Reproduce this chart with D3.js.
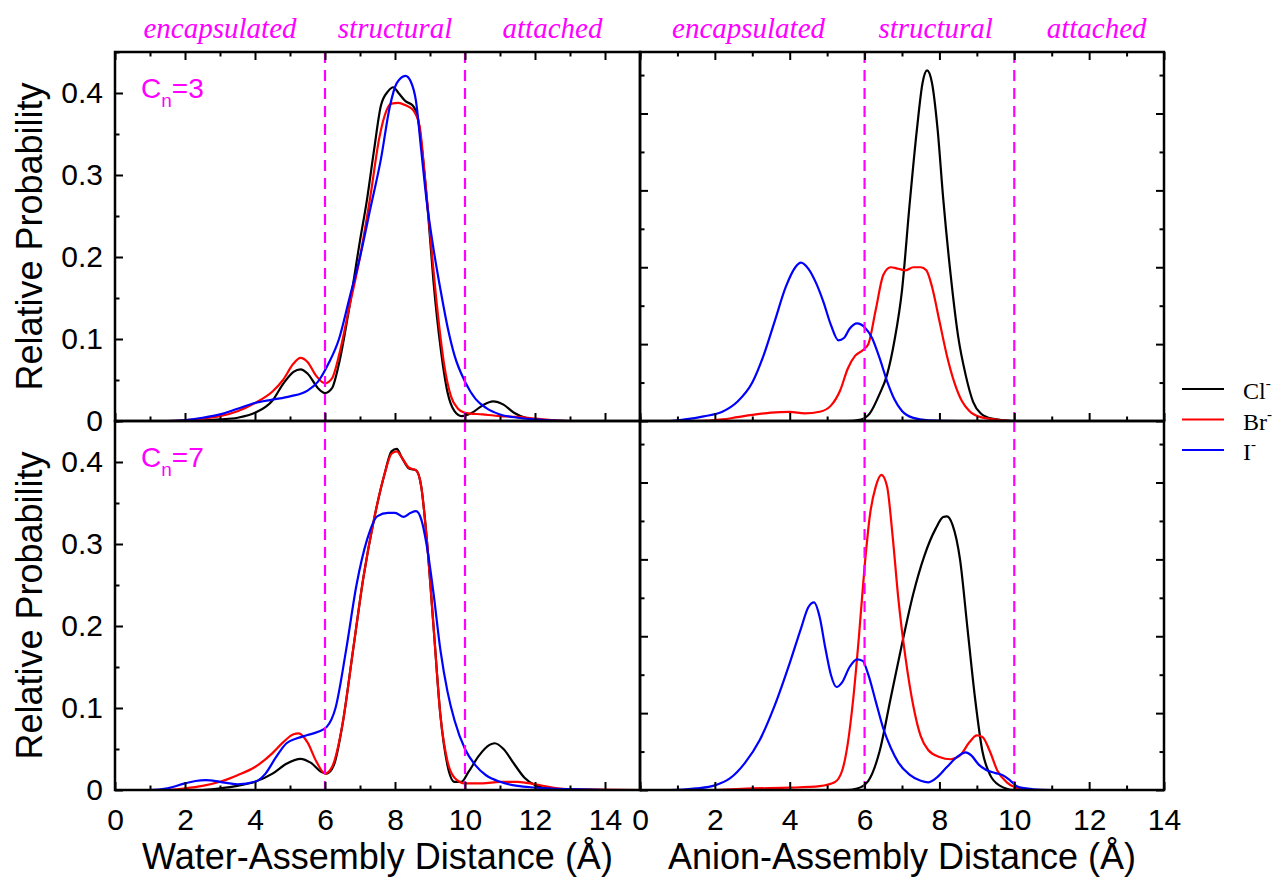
<!DOCTYPE html>
<meta charset="utf-8">
<html>
<head>
  <script src="https://d3js.org/d3.v7.min.js"></script>
  <style>
    body { margin: 0; background: #fff; }
    .tick text { font-family: "Liberation Sans", Arial, sans-serif; font-size: 30px; fill: #000; }
    .tick line { stroke: #000; stroke-width: 2; }
    .title { font-family: "Liberation Sans", Arial, sans-serif; font-size: 36px; fill: #000; }
    .region { font-family: "Liberation Serif", "Times New Roman", serif; font-style: italic; font-size: 29px; fill: #ff00ff; }
    .legend text { font-family: "Liberation Serif", "Times New Roman", serif; font-size: 24px; fill: #000; }
  </style>
</head>
<body>
<script>

// x ticks / labels
var xMajor = [0, 2, 4, 6, 8, 10, 12, 14];
var xMinorLeft = [1, 3, 5, 7, 9, 11, 13, 15];
var xMinorRight = [1, 3, 5, 7, 9, 11, 13];
var yMajor = [0, 0.1, 0.2, 0.3, 0.4];
var yMinor = [0.05, 0.15, 0.25, 0.35, 0.45];
var boundaries = [6, 10];
var regionNames = ["encapsulated", "structural", "attached"];
var regionXLeft = [3, 8, 12.5];
var regionXRight = [2.9, 7.9, 12.2];
var ions = ["Cl", "Br", "I"];
var ionColors = ["#000000", "#ff0000", "#0000ff"];

// water-assembly distance, Cn=3
var wat3Cl = [[0,0],[2,0],[3,0.002],[3.5,0.004],[4,0.01],[4.5,0.025],[4.8,0.045],[5.1,0.06],[5.3,0.063],[5.5,0.058],[5.8,0.04],[6,0.034],[6.2,0.04],[6.4,0.07],[6.7,0.14],[7,0.22],[7.2,0.27],[7.4,0.33],[7.6,0.385],[7.8,0.402],[7.95,0.407],[8.1,0.4],[8.3,0.39],[8.5,0.385],[8.65,0.37],[8.8,0.32],[8.95,0.25],[9.1,0.17],[9.3,0.09],[9.5,0.035],[9.7,0.012],[9.9,0.006],[10.2,0.01],[10.5,0.019],[10.8,0.024],[11.1,0.02],[11.4,0.01],[11.8,0.003],[12.5,0],[15,0]];
var wat3Br = [[0,0],[1.5,0],[2.5,0.003],[3,0.006],[3.5,0.012],[4,0.022],[4.5,0.036],[4.8,0.05],[5.1,0.07],[5.3,0.077],[5.5,0.072],[5.75,0.055],[6,0.046],[6.2,0.052],[6.4,0.08],[6.7,0.14],[7,0.2],[7.3,0.275],[7.55,0.345],[7.75,0.378],[7.9,0.387],[8.1,0.388],[8.3,0.385],[8.5,0.38],[8.7,0.36],[8.85,0.3],[9,0.23],[9.2,0.14],[9.4,0.07],[9.6,0.03],[9.8,0.015],[10,0.01],[10.5,0.008],[11,0.006],[11.5,0.005],[12,0.003],[13,0],[15,0]];
var wat3I = [[0,0],[1.5,0],[2.5,0.004],[3,0.008],[3.5,0.015],[4,0.022],[4.5,0.026],[5,0.03],[5.5,0.037],[5.8,0.048],[6.1,0.07],[6.4,0.1],[6.7,0.15],[7,0.2],[7.3,0.26],[7.6,0.32],[7.85,0.383],[8.05,0.412],[8.3,0.421],[8.45,0.414],[8.6,0.39],[8.75,0.33],[8.9,0.27],[9.1,0.21],[9.3,0.16],[9.5,0.115],[9.7,0.08],[10,0.048],[10.3,0.027],[10.6,0.016],[11,0.008],[11.5,0.004],[12,0.002],[13,0],[15,0]];

// water-assembly distance, Cn=7
var wat7Cl = [[0,0],[2.5,0],[3,0.002],[3.5,0.005],[4,0.01],[4.5,0.02],[4.9,0.032],[5.3,0.038],[5.6,0.033],[5.9,0.022],[6.05,0.02],[6.25,0.03],[6.5,0.08],[6.8,0.17],[7.1,0.26],[7.4,0.33],[7.7,0.385],[7.9,0.413],[8.05,0.416],[8.2,0.405],[8.4,0.392],[8.6,0.39],[8.75,0.37],[8.9,0.31],[9.1,0.2],[9.3,0.09],[9.5,0.03],[9.7,0.01],[9.9,0.01],[10.1,0.022],[10.4,0.042],[10.7,0.055],[10.85,0.057],[11.1,0.05],[11.4,0.032],[11.7,0.015],[12,0.006],[12.5,0.001],[13,0],[15,0]];
var wat7Br = [[0,0],[1.5,0],[2,0.002],[2.5,0.005],[3,0.01],[3.5,0.018],[4,0.028],[4.5,0.045],[4.8,0.058],[5.1,0.068],[5.25,0.069],[5.5,0.058],[5.75,0.035],[6,0.02],[6.2,0.028],[6.5,0.08],[6.8,0.17],[7.1,0.26],[7.4,0.33],[7.7,0.385],[7.9,0.41],[8.05,0.413],[8.2,0.405],[8.4,0.393],[8.6,0.39],[8.75,0.37],[8.9,0.31],[9.1,0.2],[9.3,0.09],[9.5,0.035],[9.7,0.015],[10,0.008],[10.5,0.008],[11,0.01],[11.5,0.01],[12,0.007],[12.5,0.003],[13,0.001],[15,0]];
var wat7I = [[0,0],[1,0],[1.5,0.002],[2,0.008],[2.3,0.011],[2.6,0.012],[3,0.01],[3.5,0.007],[4,0.01],[4.3,0.02],[4.6,0.04],[4.9,0.057],[5.2,0.063],[5.5,0.067],[5.8,0.071],[6.05,0.077],[6.3,0.1],[6.6,0.17],[6.9,0.25],[7.2,0.305],[7.5,0.334],[7.8,0.338],[8,0.338],[8.25,0.333],[8.45,0.338],[8.6,0.34],[8.75,0.33],[8.9,0.3],[9.1,0.24],[9.3,0.17],[9.5,0.12],[9.7,0.085],[10,0.05],[10.3,0.03],[10.6,0.018],[11,0.01],[11.5,0.005],[12,0.003],[13,0.001],[14,0],[15,0]];

// anion-assembly distance, Cn=3
var an3Cl = [[0,0],[5.5,0],[5.9,0.002],[6.14,0.01],[6.4,0.035],[6.6,0.06],[6.8,0.105],[7,0.17],[7.2,0.28],[7.4,0.38],[7.55,0.44],[7.67,0.456],[7.8,0.44],[7.95,0.38],[8.1,0.29],[8.3,0.19],[8.5,0.11],[8.7,0.06],[8.9,0.025],[9.1,0.01],[9.4,0.003],[10,0],[14,0]];
var an3Br = [[0,0],[1.5,0],[2.2,0.002],[2.6,0.005],[3,0.008],[3.5,0.011],[4,0.012],[4.4,0.01],[4.8,0.012],[5.1,0.02],[5.35,0.04],[5.55,0.068],[5.75,0.085],[5.95,0.092],[6.1,0.1],[6.3,0.145],[6.5,0.19],[6.7,0.2],[6.9,0.198],[7.1,0.196],[7.3,0.2],[7.5,0.2],[7.65,0.196],[7.8,0.175],[8,0.13],[8.2,0.085],[8.4,0.05],[8.6,0.026],[8.8,0.013],[9.1,0.005],[9.5,0.002],[10,0],[14,0]];
var an3I = [[0,0],[0.8,0],[1.2,0.002],[1.7,0.006],[2.2,0.012],[2.6,0.025],[3,0.05],[3.3,0.085],[3.6,0.13],[3.9,0.175],[4.15,0.2],[4.3,0.206],[4.5,0.198],[4.7,0.18],[4.9,0.155],[5.1,0.125],[5.3,0.105],[5.45,0.108],[5.6,0.12],[5.8,0.127],[6,0.122],[6.2,0.108],[6.4,0.082],[6.6,0.052],[6.8,0.028],[7,0.013],[7.3,0.004],[7.7,0.001],[8.5,0],[14,0]];

// anion-assembly distance, Cn=7
var an7Cl = [[0,0],[5.5,0],[5.8,0.002],[6.1,0.012],[6.4,0.05],[6.7,0.12],[7,0.19],[7.3,0.255],[7.6,0.305],[7.9,0.34],[8.1,0.355],[8.2,0.356],[8.35,0.345],[8.55,0.3],[8.75,0.21],[8.95,0.12],[9.15,0.05],[9.35,0.02],[9.6,0.006],[10,0],[14,0]];
var an7Br = [[0,0],[2,0],[3,0.002],[4,0.003],[4.8,0.005],[5.2,0.01],[5.4,0.025],[5.55,0.06],[5.7,0.12],[5.85,0.2],[6,0.29],[6.15,0.36],[6.3,0.395],[6.45,0.41],[6.6,0.395],[6.75,0.33],[6.9,0.25],[7.1,0.17],[7.3,0.11],[7.5,0.07],[7.7,0.052],[8,0.043],[8.3,0.04],[8.55,0.045],[8.8,0.062],[9,0.071],[9.15,0.069],[9.35,0.05],[9.55,0.025],[9.8,0.01],[10,0.004],[10.5,0],[14,0]];
var an7I = [[0,0],[0.8,0],[1.5,0.002],[2,0.006],[2.4,0.015],[2.8,0.035],[3.2,0.065],[3.6,0.11],[4,0.165],[4.3,0.21],[4.5,0.238],[4.65,0.244],[4.8,0.225],[4.95,0.185],[5.1,0.15],[5.25,0.134],[5.4,0.14],[5.6,0.16],[5.8,0.17],[5.95,0.168],[6.1,0.15],[6.3,0.115],[6.5,0.08],[6.7,0.055],[6.9,0.036],[7.2,0.02],[7.5,0.012],[7.7,0.01],[7.9,0.015],[8.2,0.03],[8.5,0.044],[8.7,0.049],[8.85,0.045],[9.05,0.033],[9.25,0.026],[9.5,0.022],[9.7,0.019],[9.9,0.012],[10.1,0.004],[10.5,0.001],[11,0],[14,0]];

var W = 1279, H = 880;
var svg = d3.select("body").append("svg").attr("width", W).attr("height", H);

var panels = [
  { x0: 115, x1: 640, y0: 52, y1: 421, xmax: 15, ymax: 0.45, series: [wat3Cl, wat3Br, wat3I], side: "left", row: "top", cn: "3" },
  { x0: 640, x1: 1164, y0: 52, y1: 421, xmax: 14, ymax: 0.48, series: [an3Cl, an3Br, an3I], side: "right", row: "top" },
  { x0: 115, x1: 640, y0: 421, y1: 790, xmax: 15, ymax: 0.45, series: [wat7Cl, wat7Br, wat7I], side: "left", row: "bottom", cn: "7" },
  { x0: 640, x1: 1164, y0: 421, y1: 790, xmax: 14, ymax: 0.48, series: [an7Cl, an7Br, an7I], side: "right", row: "bottom" }
];

panels.forEach(function (p, pi) {
  var x = d3.scaleLinear().domain([0, p.xmax]).range([p.x0, p.x1]);
  var y = d3.scaleLinear().domain([0, p.ymax]).range([p.y1, p.y0]);
  var g = svg.append("g");

  g.append("clipPath").attr("id", "clip" + pi)
    .append("rect").attr("x", p.x0).attr("y", p.y0)
    .attr("width", p.x1 - p.x0).attr("height", p.y1 - p.y0);

  // curves
  var line = d3.line()
    .x(function (d) { return x(d[0]); })
    .y(function (d) { return y(d[1]); })
    .curve(d3.curveMonotoneX);

  var cg = g.append("g").attr("clip-path", "url(#clip" + pi + ")");
  p.series.forEach(function (s, i) {
    cg.append("path").datum(s)
      .attr("d", line)
      .attr("fill", "none")
      .attr("stroke", ionColors[i])
      .attr("stroke-width", 2.2)
      .attr("stroke-linejoin", "round");
  });

  // region boundaries
  boundaries.forEach(function (b) {
    g.append("line")
      .attr("x1", x(b)).attr("x2", x(b))
      .attr("y1", p.y0).attr("y2", p.y1)
      .attr("stroke", "#ff00ff")
      .attr("stroke-width", 2.2)
      .attr("stroke-dasharray", "11,7");
  });

  // bottom axis (inward ticks)
  var bottomMaj = d3.axisBottom(x).tickValues(xMajor).tickSize(-8).tickPadding(19)
    .tickFormat(p.row == "bottom" ? d3.format("d") : "");
  var bottomMin = d3.axisBottom(x).tickValues(p.side == "left" ? xMinorLeft : xMinorRight)
    .tickSize(-4.5).tickFormat("");
  g.append("g").attr("transform", "translate(0," + p.y1 + ")").call(bottomMaj);
  g.append("g").attr("transform", "translate(0," + p.y1 + ")").call(bottomMin);

  if (p.row == "top") {
    g.append("g").attr("transform", "translate(0," + p.y0 + ")")
      .call(d3.axisTop(x).tickValues(xMajor).tickSize(-8).tickFormat(""));
    g.append("g").attr("transform", "translate(0," + p.y0 + ")")
      .call(d3.axisTop(x).tickValues(p.side == "left" ? xMinorLeft : xMinorRight).tickSize(-4.5).tickFormat(""));
  }

  // left axis
  var fmt = function (v) { return v == 0 ? "0" : d3.format(".1f")(v); };
  g.append("g").attr("transform", "translate(" + p.x0 + ",0)")
    .call(d3.axisLeft(y).tickValues(yMajor).tickSize(-8).tickPadding(12)
      .tickFormat(p.side == "left" ? fmt : ""));
  g.append("g").attr("transform", "translate(" + p.x0 + ",0)")
    .call(d3.axisLeft(y).tickValues(yMinor).tickSize(-4.5).tickFormat(""));

  if (p.side == "right") {
    g.append("g").attr("transform", "translate(" + p.x1 + ",0)")
      .call(d3.axisRight(y).tickValues(yMajor).tickSize(-8).tickFormat(""));
    g.append("g").attr("transform", "translate(" + p.x1 + ",0)")
      .call(d3.axisRight(y).tickValues(yMinor).tickSize(-4.5).tickFormat(""));
  }

  g.selectAll(".domain").remove();

  // frame
  g.append("rect")
    .attr("x", p.x0).attr("y", p.y0)
    .attr("width", p.x1 - p.x0).attr("height", p.y1 - p.y0)
    .attr("fill", "none").attr("stroke", "#000").attr("stroke-width", 2.5);

  // region names above top panels
  if (p.row == "top") {
    var rx = p.side == "left" ? regionXLeft : regionXRight;
    regionNames.forEach(function (n, i) {
      g.append("text").attr("class", "region")
        .attr("x", x(rx[i])).attr("y", 38)
        .attr("text-anchor", "middle")
        .text(n);
    });
  }

  // Cn label
  if (p.cn) {
    var t = g.append("text")
      .attr("x", p.x0 + 26).attr("y", p.y0 + 46)
      .style("font-family", "'Liberation Sans', Arial, sans-serif")
      .style("font-size", "28px")
      .attr("fill", "#ff00ff");
    t.append("tspan").text("C");
    t.append("tspan").attr("dy", 9).style("font-size", "19px").text("n");
    t.append("tspan").attr("dy", -9).text("=" + p.cn);
  }

  // y title
  if (p.side == "left") {
    svg.append("text").attr("class", "title")
      .attr("transform", "translate(42," + ((p.y0 + p.y1) / 2) + ") rotate(-90)")
      .attr("text-anchor", "middle")
      .text("Relative Probability");
  }

  // x title
  if (p.row == "bottom") {
    svg.append("text").attr("class", "title")
      .attr("x", (p.x0 + p.x1) / 2).attr("y", 869)
      .attr("text-anchor", "middle")
      .text(p.side == "left" ? "Water-Assembly Distance (Å)" : "Anion-Assembly Distance (Å)");
  }
});

// legend
var legend = svg.append("g").attr("class", "legend");
ions.forEach(function (name, i) {
  var ly = 389 + i * 30.5;
  legend.append("line")
    .attr("x1", 1182).attr("x2", 1224)
    .attr("y1", ly).attr("y2", ly)
    .attr("stroke", ionColors[i]).attr("stroke-width", 2.2);
  var t = legend.append("text").attr("x", 1243).attr("y", ly + 10);
  t.append("tspan").text(name);
  t.append("tspan").attr("dy", -11).style("font-size", "15px").text("-");
});

</script>
</body>
</html>
